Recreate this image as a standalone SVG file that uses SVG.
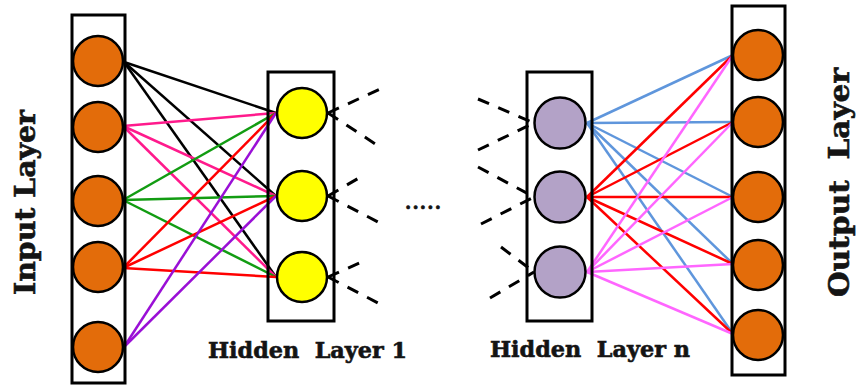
<svg xmlns="http://www.w3.org/2000/svg" width="857" height="386" viewBox="0 0 857 386">
  <style>
    .frame { fill: none; stroke: #000; stroke-width: 3; }
    .node { stroke: #000; stroke-width: 2.5; }
    .in { fill: #e36c0a; }
    .h1 { fill: #ffff00; }
    .hn { fill: #b3a2c7; }
    .out { fill: #e36c0a; }
    .edge { stroke-width: 2.5; fill: none; }
    .k { stroke: #000; }
    .pk { stroke: #ff1a8c; }
    .gr { stroke: #129c12; }
    .rd { stroke: #ff0000; }
    .pu { stroke: #9a0fd6; }
    .bl { stroke: #5f96dc; }
    .vi { stroke: #ff66ff; }
    .dash { stroke: #000; stroke-width: 3; stroke-dasharray: 12 10; fill: none; }
    .label { font-family: "DejaVu Serif", "Liberation Serif", serif; font-weight: bold; fill: #141414; stroke: #141414; stroke-width: 0.6; }
  </style>
  <rect width="857" height="386" fill="#fff"/>

  <g id="connectors">
    <!-- input layer to hidden layer 1 -->
    <g class="edge k">
      <line x1="124" y1="62" x2="276" y2="113"/>
      <line x1="124" y1="62" x2="276" y2="196"/>
      <line x1="124" y1="62" x2="276" y2="277"/>
    </g>
    <g class="edge pk">
      <line x1="123" y1="126" x2="276" y2="113"/>
      <line x1="123" y1="126" x2="276" y2="196"/>
      <line x1="123" y1="126" x2="276" y2="277"/>
    </g>
    <g class="edge gr">
      <line x1="123" y1="200" x2="276" y2="113"/>
      <line x1="123" y1="200" x2="276" y2="196"/>
      <line x1="123" y1="200" x2="276" y2="277"/>
    </g>
    <g class="edge rd">
      <line x1="123" y1="268" x2="276" y2="113"/>
      <line x1="123" y1="268" x2="276" y2="196"/>
      <line x1="123" y1="268" x2="276" y2="277"/>
    </g>
    <g class="edge pu">
      <line x1="124" y1="347" x2="276" y2="113"/>
      <line x1="124" y1="347" x2="276" y2="196"/>
    </g>

    <!-- dashed continuation out of hidden layer 1 -->
    <line class="dash" x1="328" y1="113" x2="380" y2="89"/>
    <line class="dash" x1="328" y1="113" x2="380" y2="147"/>
    <line class="dash" x1="328" y1="196" x2="364" y2="175"/>
    <line class="dash" x1="328" y1="196" x2="380" y2="223"/>
    <line class="dash" x1="328" y1="277" x2="364" y2="261"/>
    <line class="dash" x1="328" y1="277" x2="380" y2="304"/>

    <!-- dashed continuation into hidden layer n -->
    <line class="dash" x1="478" y1="99" x2="534" y2="123"/>
    <line class="dash" x1="478" y1="150" x2="534" y2="123"/>
    <line class="dash" x1="478" y1="167" x2="534" y2="197"/>
    <line class="dash" x1="481" y1="224" x2="534" y2="197"/>
    <line class="dash" x1="501" y1="247" x2="534" y2="272"/>
    <line class="dash" x1="490" y1="298" x2="534" y2="272"/>

    <!-- hidden layer n to output layer -->
    <g class="edge bl">
      <line x1="587" y1="123" x2="733" y2="55"/>
      <line x1="587" y1="123" x2="733" y2="122"/>
      <line x1="587" y1="123" x2="733" y2="197"/>
      <line x1="587" y1="123" x2="733" y2="264"/>
      <line x1="587" y1="123" x2="733" y2="334"/>
    </g>
    <g class="edge rd">
      <line x1="587" y1="197" x2="733" y2="55"/>
      <line x1="587" y1="197" x2="733" y2="122"/>
      <line x1="587" y1="197" x2="733" y2="197"/>
      <line x1="587" y1="197" x2="733" y2="264"/>
      <line x1="587" y1="197" x2="733" y2="334"/>
    </g>
    <g class="edge vi">
      <line x1="587" y1="272" x2="733" y2="55"/>
      <line x1="587" y1="272" x2="733" y2="122"/>
      <line x1="587" y1="272" x2="733" y2="197"/>
      <line x1="587" y1="272" x2="733" y2="264"/>
      <line x1="587" y1="272" x2="733" y2="334"/>
    </g>
  </g>

  <g id="input-layer">
    <rect class="frame" x="72" y="15" width="53" height="368"/>
    <circle class="node in" cx="98" cy="61" r="25"/>
    <circle class="node in" cx="98" cy="127" r="25"/>
    <circle class="node in" cx="98" cy="201" r="25"/>
    <circle class="node in" cx="98" cy="267" r="25"/>
    <circle class="node in" cx="98" cy="347" r="25"/>
  </g>

  <g id="hidden-layer-1">
    <rect class="frame" x="268" y="72" width="66" height="249"/>
    <circle class="node h1" cx="302" cy="113" r="25"/>
    <circle class="node h1" cx="302" cy="196" r="25"/>
    <circle class="node h1" cx="302" cy="277" r="25"/>
  </g>

  <g id="hidden-layer-n">
    <rect class="frame" x="527" y="72" width="65" height="249"/>
    <circle class="node hn" cx="560" cy="123" r="25.5"/>
    <circle class="node hn" cx="560" cy="197" r="25.5"/>
    <circle class="node hn" cx="560" cy="272" r="25.5"/>
  </g>

  <g id="output-layer">
    <rect class="frame" x="732" y="6" width="53" height="369"/>
    <circle class="node out" cx="758" cy="55" r="25"/>
    <circle class="node out" cx="758" cy="122" r="25"/>
    <circle class="node out" cx="758" cy="197" r="25"/>
    <circle class="node out" cx="758" cy="265" r="25"/>
    <circle class="node out" cx="758" cy="335" r="25"/>
  </g>

  <g id="labels">
    <text class="label" font-size="28" transform="translate(35,295) rotate(-90)" textLength="185" lengthAdjust="spacingAndGlyphs">Input Layer</text>
    <text class="label" font-size="28" transform="translate(849,297) rotate(-90)" textLength="229" lengthAdjust="spacingAndGlyphs" xml:space="preserve">Output  Layer</text>
    <text class="label" font-size="22" x="208" y="358" textLength="199" lengthAdjust="spacingAndGlyphs" xml:space="preserve">Hidden  Layer 1</text>
    <text class="label" font-size="22" x="490" y="357" textLength="200" lengthAdjust="spacingAndGlyphs" xml:space="preserve">Hidden  Layer n</text>
    <text class="label" font-size="18" x="405" y="209" textLength="36" lengthAdjust="spacing" fill="#1a1a40" stroke="none">.....</text>
  </g>
</svg>
